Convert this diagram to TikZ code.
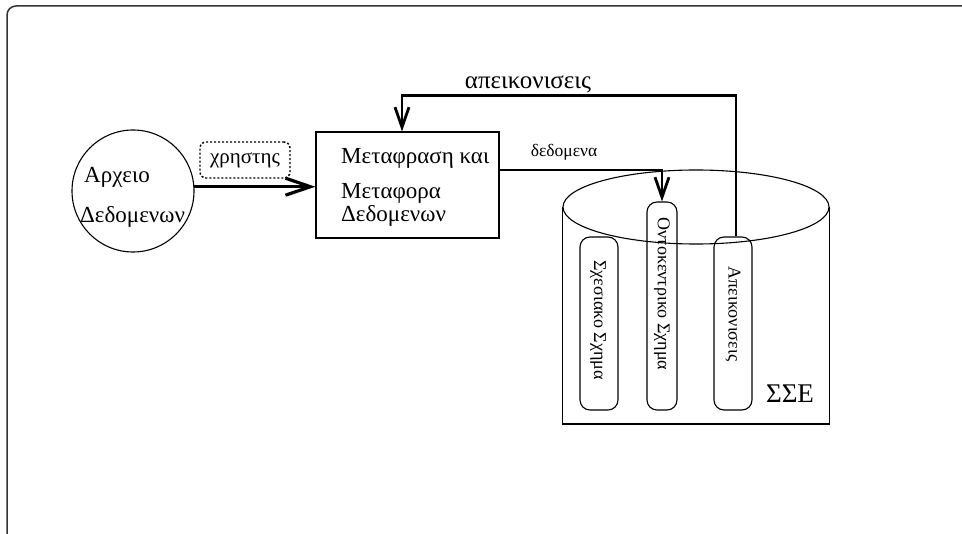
\documentclass[tikz,border=0pt]{standalone}
\usepackage{fontspec}
\setmainfont{Liberation Serif}
\usepackage{graphicx}
\usetikzlibrary{arrows.meta,calc,shapes.geometric}
\begin{document}
\begin{tikzpicture}[x=1pt,y=-1pt,
  thinline/.style={line width=1.1pt},
  bigarrow/.style={line width=3.2pt,-{Straight Barb[length=25pt,width=17pt]}},
  downarrow/.style={line width=2.8pt,-{Straight Barb[length=20pt,width=14pt]}},
  lbl/.style={font=\fontsize{23}{27}\selectfont,inner sep=0pt},
  vlbl/.style={font=\fontsize{18}{21}\selectfont,inner sep=0pt,rotate=-90},
  vbox/.style={draw,thinline,rounded corners=10pt,inner sep=0pt}]
\useasboundingbox (0,0) rectangle (962,534);
\clip (0,0) rectangle (962,534);
% outer frame
\draw[line width=1.5pt,black!80,rounded corners=9pt] (7,6) rectangle (990,548);
% data file circle
\node[draw,thinline,circle,minimum size=122pt,inner sep=0pt] (arch) at (133,191) {};
\node[lbl,anchor=base west] (a1) at (84,183) {Αρχειο};
\node[lbl,anchor=base west] (a2) at (80,223) {Δεδομενων};
% user box
\node[draw,line width=1.4pt,dash pattern=on 2pt off 2pt,rounded corners=6pt,minimum width=90pt,minimum height=36pt,font=\fontsize{21}{25}\selectfont,inner sep=0pt] (user) at (245,160) {χρηστης};
% translation box
\node[draw,thinline,minimum width=183pt,minimum height=106pt,inner sep=0pt] (meta) at (407.5,185) {};
\node[lbl,anchor=base west] (m1) at (341,164) {Μεταφραση και};
\node[lbl,anchor=base west] (m2) at (341,199) {Μεταφορα};
\node[lbl,anchor=base west] (m3) at (341,222) {Δεδομενων};
% cylinder
\node[draw,thinline,ellipse,minimum width=266pt,minimum height=74pt,inner sep=0pt] (ssetop) at (696,207) {};
\draw[thinline] (ssetop.west) -- ++(0,217) -| (ssetop.east);
% vertical boxes
\node[vbox,minimum width=38pt,minimum height=173pt] (sxes) at (599,323.5) {};
\node[vbox,minimum width=30pt,minimum height=208pt] (onto) at (662,306) {};
\node[vbox,minimum width=38pt,minimum height=173pt] (apeik) at (733,323.5) {};
\node[vlbl] (tsxes) at (598,320) {Σχεσιακο Σχημα};
\node[vlbl] (tonto) at (662,294) {Οντοκεντρικο Σχημα};
\node[vlbl] (tapeik) at (733,314) {Απεικονισεις};
\node[font=\fontsize{27}{31}\selectfont,inner sep=0pt,anchor=base] (sse) at (790,403) {ΣΣΕ};
% labels
\node[font=\fontsize{25}{29}\selectfont,inner sep=0pt,anchor=base] (lapeik) at (528,89) {απεικονισεις};
\node[font=\fontsize{17.5}{21}\selectfont,inner sep=0pt,anchor=base] (ldata) at (564,157) {δεδομενα};
% connectors
\draw[bigarrow] (arch.4) -- (arch.4 -| meta.west);
\draw[downarrow] ($(meta.east)+(0,-15)$) -| (onto.north);
\draw[downarrow] ($(apeik.north)+(3,0)$) |- ($(meta.north)+(-5.5,-36)$) -- ($(meta.north)+(-5.5,0)$);
\end{tikzpicture}
\end{document}
